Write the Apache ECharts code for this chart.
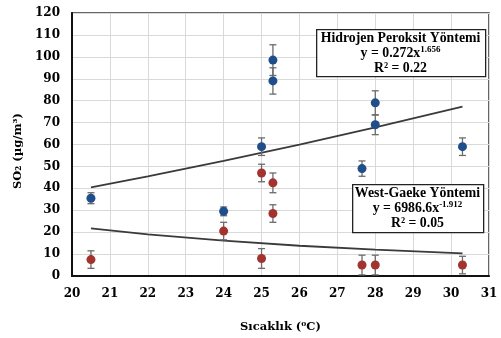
<!DOCTYPE html>
<html>
<head>
<meta charset="utf-8">
<script src="https://cdn.jsdelivr.net/npm/echarts@6/dist/echarts.min.js"></script>
<style>
  html, body { margin: 0; padding: 0; background: #fff; }
  #chart { width: 501px; height: 338px; }
</style>
</head>
<body>
<div id="chart"></div>
<script>
// Hidrojen Peroksit measurements: [temperature, SO2, error]
const h2o2Points = [
  [20.5, 35.5, 2.5], [24, 29.5, 2], [25, 59, 4], [25.3, 98.5, 7], [25.3, 89, 6],
  [27.65, 49, 3.5], [28, 79, 5.5], [28, 69, 4.5], [30.3, 59, 4]
];
// West-Gaeke measurements: [temperature, SO2, error]
const westGaekePoints = [
  [20.5, 7.5, 4], [24, 20.5, 4], [25, 47, 4], [25.3, 42.5, 4.5], [25.3, 28.5, 4],
  [25, 8, 4.5], [27.65, 5, 4.5], [28, 5, 4.5], [28, 26, 4.5], [30.3, 5, 4]
];
// trend lines
const h2o2Trend = [[20.5, 40.4], [22, 45.5], [24, 52.5], [26, 59.9], [28, 67.8], [30.3, 77.3]];
const westGaekeTrend = [[20.5, 21.7], [22, 19.0], [24, 16.1], [26, 13.8], [28, 12.0], [30.3, 10.3]];

const xTicks = { min: 20, max: 31, interval: 1 };
const yTicks = { min: 0, max: 120, interval: 10 };

const FONT = "'DejaVu Serif', serif";
const BOX_FONT = "'Liberation Serif', serif";
const BLUE = "#1f4e8a";
const RED = "#a3332e";
const ERR = "#6b6b6b";

const chart = echarts.init(document.getElementById("chart"), null, { renderer: "canvas" });

function errorSeries(points) {
  return {
    type: "custom",
    data: points,
    z: 3,
    silent: true,
    renderItem: (params, api) => {
      const x = api.value(0), y = api.value(1), e = api.value(2);
      const top = api.coord([x, y + e]);
      const bot = api.coord([x, y - e]);
      const cap = 3.5;
      const style = { stroke: ERR, lineWidth: 1.3 };
      return {
        type: "group",
        children: [
          { type: "line", shape: { x1: top[0], y1: top[1], x2: bot[0], y2: bot[1] }, style },
          { type: "line", shape: { x1: top[0] - cap, y1: top[1], x2: top[0] + cap, y2: top[1] }, style },
          { type: "line", shape: { x1: bot[0] - cap, y1: bot[1], x2: bot[0] + cap, y2: bot[1] }, style }
        ]
      };
    }
  };
}

const boxText = {
  fontFamily: BOX_FONT, fontWeight: "bold", fontSize: 13.8, fill: "#000",
  align: "center", verticalAlign: "top", lineHeight: 15
};
const rich = {
  sup: { fontFamily: BOX_FONT, fontWeight: "bold", fontSize: 9, padding: [0, 0, 6, 0], lineHeight: 15 }
};

chart.setOption({
  backgroundColor: "#fff",
  animation: false,
  grid: { left: 72, right: 12, top: 13, bottom: 59, show: true, borderColor: "#333", borderWidth: 1.5 },
  xAxis: {
    type: "value",
    min: xTicks.min, max: xTicks.max, interval: xTicks.interval,
    name: "Sıcaklık (⁰C)",
    nameLocation: "middle",
    nameGap: 45,
    nameTextStyle: { fontFamily: FONT, fontWeight: "bold", fontSize: 11.5, color: "#000" },
    axisLine: { lineStyle: { color: "#111", width: 2 } },
    axisTick: { show: false },
    axisLabel: { fontFamily: FONT, fontWeight: "bold", fontSize: 12, color: "#000", margin: 12 },
    splitLine: { lineStyle: { color: "#d9d9d9", width: 1 } }
  },
  yAxis: {
    type: "value",
    min: yTicks.min, max: yTicks.max, interval: yTicks.interval,
    name: "SO₂ (µg/m³)",
    nameLocation: "middle",
    nameGap: 45,
    nameTextStyle: {
      fontFamily: FONT, fontWeight: "bold", fontSize: 11.5, color: "#000",
      padding: [0, 13, 0, 0]
    },
    axisLine: { show: true, lineStyle: { color: "#111", width: 2 } },
    axisTick: { show: false },
    axisLabel: { fontFamily: FONT, fontWeight: "bold", fontSize: 12, color: "#000", margin: 12 },
    splitLine: { lineStyle: { color: "#d9d9d9", width: 1 } }
  },
  series: [
    {
      type: "line", data: h2o2Trend, showSymbol: false, z: 2,
      lineStyle: { color: "#3a3a3a", width: 1.8 }
    },
    {
      type: "line", data: westGaekeTrend, showSymbol: false, z: 2,
      lineStyle: { color: "#3a3a3a", width: 1.8 }
    },
    errorSeries(h2o2Points),
    errorSeries(westGaekePoints),
    {
      type: "scatter", data: h2o2Points.map(p => [p[0], p[1]]), symbolSize: 9, z: 4,
      itemStyle: { color: BLUE, opacity: 1 }
    },
    {
      type: "scatter", data: westGaekePoints.map(p => [p[0], p[1]]), symbolSize: 9, z: 4,
      itemStyle: { color: RED, opacity: 1 }
    }
  ],
  graphic: [
    {
      type: "rect", left: 316, top: 29, z: 10,
      shape: { width: 169, height: 47 },
      style: { fill: "#fff", stroke: "#222", lineWidth: 1.3 }
    },
    {
      type: "text", x: 400.5, y: 30.5, z: 11,
      style: Object.assign({}, boxText, {
        text: "Hidrojen Peroksit Yöntemi\ny = 0.272x{sup|1.656}\nR² = 0.22",
        rich
      })
    },
    {
      type: "rect", left: 352, top: 184, z: 10,
      shape: { width: 131, height: 48 },
      style: { fill: "#fff", stroke: "#222", lineWidth: 1.3 }
    },
    {
      type: "text", x: 417.5, y: 185.5, z: 11,
      style: Object.assign({}, boxText, {
        text: "West-Gaeke Yöntemi\ny = 6986.6x{sup|-1.912}\nR² = 0.05",
        rich
      })
    }
  ]
});
</script>
</body>
</html>
